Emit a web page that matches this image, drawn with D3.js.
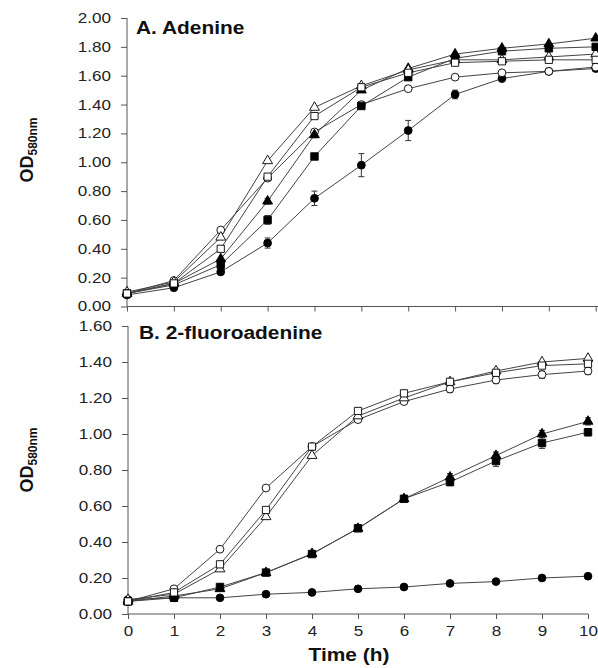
<!DOCTYPE html>
<html>
<head>
<meta charset="utf-8">
<script src="https://cdn.jsdelivr.net/npm/d3@7"></script>
<style>
  body { margin: 0; background: #fff; }
  text { font-family: "Liberation Sans", Arial, sans-serif; }
</style>
</head>
<body>
<div id="plot"></div>
<script>
// Chart data
const hours = [0, 1, 2, 3, 4, 5, 6, 7, 8, 9, 10];
const seriesKeys = ["filledCircle", "openCircle", "filledTriangle", "openTriangle", "filledSquare", "openSquare"];

// A. Adenine
const adenine = {
  filledCircle:   [0.08, 0.13, 0.24, 0.44, 0.75, 0.98, 1.22, 1.47, 1.58, 1.63, 1.65],
  openCircle:     [0.09, 0.18, 0.53, 0.89, 1.21, 1.40, 1.51, 1.59, 1.62, 1.63, 1.66],
  filledTriangle: [0.09, 0.16, 0.33, 0.73, 1.19, 1.50, 1.65, 1.75, 1.79, 1.82, 1.86],
  openTriangle:   [0.10, 0.17, 0.48, 1.01, 1.38, 1.53, 1.64, 1.71, 1.71, 1.73, 1.75],
  filledSquare:   [0.09, 0.15, 0.29, 0.60, 1.04, 1.39, 1.59, 1.72, 1.77, 1.79, 1.80],
  openSquare:     [0.09, 0.16, 0.40, 0.90, 1.32, 1.52, 1.62, 1.69, 1.70, 1.71, 1.71]
};
const adenineErr = {
  filledCircle:   [0, 0.01, 0.01, 0.035, 0.05, 0.08, 0.07, 0.03, 0.01, 0.01, 0.01],
  openCircle:     [0, 0, 0.01, 0.01, 0.01, 0.01, 0.01, 0.01, 0.01, 0.01, 0.01],
  filledTriangle: [0, 0, 0.01, 0.02, 0.02, 0.01, 0.01, 0.01, 0.01, 0.01, 0.01],
  openTriangle:   [0, 0, 0.01, 0.01, 0.01, 0.01, 0.01, 0.01, 0.01, 0.01, 0.01],
  filledSquare:   [0, 0, 0.01, 0.03, 0.02, 0.01, 0.01, 0.01, 0.01, 0.01, 0.01],
  openSquare:     [0, 0, 0.01, 0.01, 0.01, 0.01, 0.01, 0.01, 0.01, 0.01, 0.01]
};

// B. 2-fluoroadenine
const fluoro = {
  filledCircle:   [0.08, 0.09, 0.09, 0.11, 0.12, 0.14, 0.15, 0.17, 0.18, 0.20, 0.21],
  openCircle:     [0.07, 0.14, 0.36, 0.70, 0.93, 1.08, 1.18, 1.25, 1.30, 1.33, 1.35],
  filledTriangle: [0.07, 0.10, 0.14, 0.23, 0.335, 0.475, 0.64, 0.76, 0.88, 1.00, 1.07],
  openTriangle:   [0.08, 0.11, 0.25, 0.54, 0.88, 1.10, 1.20, 1.29, 1.35, 1.40, 1.42],
  filledSquare:   [0.07, 0.09, 0.15, 0.23, 0.333, 0.476, 0.64, 0.733, 0.85, 0.95, 1.01],
  openSquare:     [0.07, 0.12, 0.276, 0.578, 0.93, 1.128, 1.226, 1.29, 1.34, 1.38, 1.39]
};
const fluoroErr = {
  filledCircle:   [0, 0, 0, 0, 0, 0, 0, 0, 0, 0, 0],
  openCircle:     [0, 0, 0.01, 0.01, 0.01, 0.01, 0.01, 0.02, 0.02, 0.02, 0.02],
  filledTriangle: [0, 0, 0.01, 0.01, 0.01, 0.01, 0.01, 0.02, 0.02, 0.02, 0.02],
  openTriangle:   [0, 0, 0.01, 0.01, 0.01, 0.01, 0.01, 0.01, 0.01, 0.01, 0.01],
  filledSquare:   [0, 0, 0.01, 0.01, 0.01, 0.01, 0.01, 0.02, 0.03, 0.03, 0.02],
  openSquare:     [0, 0, 0.01, 0.01, 0.01, 0.01, 0.01, 0.01, 0.01, 0.01, 0.01]
};

const topTicks = [0, 0.2, 0.4, 0.6, 0.8, 1.0, 1.2, 1.4, 1.6, 1.8, 2.0];
const bottomTicks = [0, 0.2, 0.4, 0.6, 0.8, 1.0, 1.2, 1.4, 1.6];

// Setup
const width = 598;
const height = 668;
const stretch = 1.22; // glyphs in the figure are horizontally widened

const svg = d3.select("#plot")
  .append("svg")
  .attr("width", width)
  .attr("height", height);

const symbolFor = {
  filledCircle:   { type: d3.symbolCircle, size: 48, fill: "#000" },
  openCircle:     { type: d3.symbolCircle, size: 48, fill: "#fff" },
  filledTriangle: { type: d3.symbolTriangle, size: 42, fill: "#000" },
  openTriangle:   { type: d3.symbolTriangle, size: 42, fill: "#fff" },
  filledSquare:   { type: d3.symbolSquare, size: 56, fill: "#000" },
  openSquare:     { type: d3.symbolSquare, size: 52, fill: "#fff" }
};

function drawPanel(opts) {
  const { data, err, x, y, ticks, title, titleX, titleY, labelY, axisRight } = opts;
  const g = svg.append("g");

  // Y axis
  const yAxis = g.append("g")
    .attr("transform", `translate(${x(0)},0)`)
    .call(d3.axisLeft(y).tickValues(ticks).tickFormat(d3.format(".2f")).tickSize(6));
  yAxis.select(".domain").attr("stroke", "#555").attr("d", `M0,${y(ticks[ticks.length - 1])}V${y(0)}`);
  yAxis.selectAll(".tick line").attr("stroke", "#555");
  yAxis.selectAll(".tick text")
    .attr("font-size", 14).attr("fill", "#222")
    .attr("x", -16 / stretch)
    .attr("transform", `scale(${stretch},1)`);

  // X axis
  const xAxis = g.append("g")
    .attr("transform", `translate(0,${y(0)})`)
    .call(d3.axisBottom(x).tickValues(hours).tickSize(5).tickPadding(7));
  xAxis.select(".domain").attr("stroke", "#555").attr("d", `M${x(0)},0H${axisRight}`);
  xAxis.selectAll(".tick line").attr("stroke", "#555");
  xAxis.selectAll(".tick text")
    .attr("font-size", 14).attr("fill", "#222")
    .attr("transform", `scale(${stretch},1)`);
  if (!opts.showXLabels) xAxis.selectAll(".tick text").remove();

  // Title
  g.append("text")
    .attr("transform", `translate(${titleX},${titleY}) scale(1.1,1)`)
    .attr("font-size", 19)
    .attr("font-weight", "bold")
    .attr("fill", "#111")
    .text(title);

  // Y label OD580nm
  const lab = g.append("text")
    .attr("transform", `translate(33,${labelY}) rotate(-90)`)
    .attr("text-anchor", "middle")
    .attr("font-weight", "bold")
    .attr("fill", "#111");
  lab.append("tspan").attr("font-size", 18).text("OD");
  lab.append("tspan").attr("font-size", 12).attr("dy", 4).text("580nm");

  const line = d3.line().x((d, i) => x(hours[i])).y(d => y(d));

  // Lines
  seriesKeys.forEach(k => {
    g.append("path")
      .datum(data[k])
      .attr("d", line)
      .attr("fill", "none")
      .attr("stroke", "#444")
      .attr("stroke-width", 1);
  });

  // Error bars
  seriesKeys.forEach(k => {
    const eg = g.append("g").attr("stroke", "#333").attr("stroke-width", 1);
    data[k].forEach((v, i) => {
      const e = err[k][i];
      if (e < 0.02) return;
      const cx = x(hours[i]);
      eg.append("line").attr("x1", cx).attr("x2", cx).attr("y1", y(v - e)).attr("y2", y(v + e));
      eg.append("line").attr("x1", cx - 3).attr("x2", cx + 3).attr("y1", y(v - e)).attr("y2", y(v - e));
      eg.append("line").attr("x1", cx - 3).attr("x2", cx + 3).attr("y1", y(v + e)).attr("y2", y(v + e));
    });
  });

  // Markers
  seriesKeys.forEach(k => {
    const s = symbolFor[k];
    g.append("g")
      .selectAll("path")
      .data(data[k])
      .enter().append("path")
      .attr("transform", (d, i) => `translate(${x(hours[i])},${y(d)})`)
      .attr("d", d3.symbol().type(s.type).size(s.size))
      .attr("fill", s.fill)
      .attr("stroke", "#000")
      .attr("stroke-width", 0.9);
  });
}

// Panel A
const xTop = d3.scaleLinear().domain([0, 10]).range([127, 595.7]);
const yTop = d3.scaleLinear().domain([0, 2]).range([306.5, 18]);
drawPanel({
  data: adenine, err: adenineErr, x: xTop, y: yTop, ticks: topTicks,
  title: "A. Adenine", titleX: 136, titleY: 34, labelY: 150,
  axisRight: 598, showXLabels: false
});

// Panel B
const xBot = d3.scaleLinear().domain([0, 10]).range([128, 588]);
const yBot = d3.scaleLinear().domain([0, 1.6]).range([614, 326]);
drawPanel({
  data: fluoro, err: fluoroErr, x: xBot, y: yBot, ticks: bottomTicks,
  title: "B. 2-fluoroadenine", titleX: 139, titleY: 339, labelY: 460,
  axisRight: 588, showXLabels: true
});

// X axis title
svg.append("text")
  .attr("transform", "translate(349,661) scale(1.1,1)")
  .attr("text-anchor", "middle")
  .attr("font-size", 19)
  .attr("font-weight", "bold")
  .attr("fill", "#111")
  .text("Time (h)");
</script>
</body>
</html>
